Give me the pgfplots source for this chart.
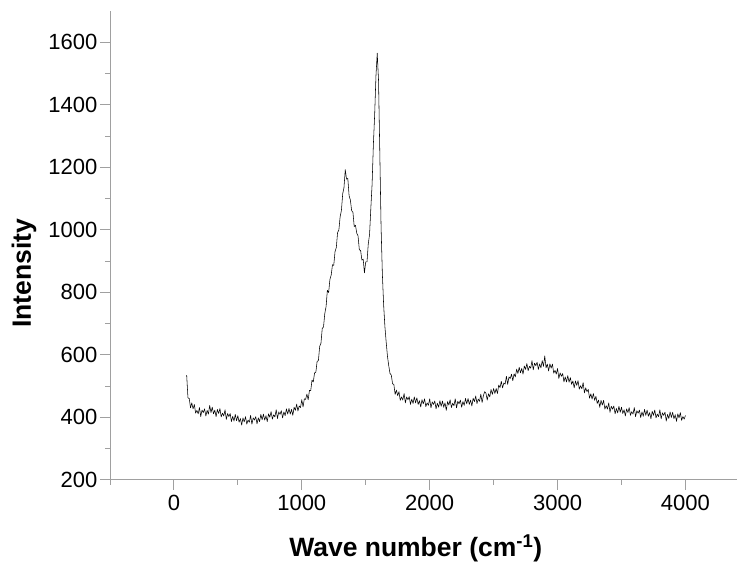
\documentclass[border=0pt]{standalone}
\usepackage{pgfplots}
\usepackage{pgfplotstable}
\pgfplotsset{compat=1.18}
\usepackage{fontspec}
\setmainfont{Liberation Sans}
\definecolor{axgray}{HTML}{A0A0A0}
\pgfplotstableread{
x y
100 535
110 462
120 460
130 430
140 446
150 427
160 441
170 413
180 422
190 411
200 431
210 402
220 423
230 415
240 427
250 404
260 422
270 410
280 438
290 415
300 432
310 411
320 423
330 402
340 425
350 412
360 428
370 401
380 413
390 404
400 424
410 393
420 412
430 402
440 412
450 386
460 403
470 388
480 409
490 389
500 405
510 384
520 396
530 375
540 398
550 385
560 402
570 378
580 391
590 384
600 406
610 378
620 398
630 391
640 402
650 379
660 398
670 386
680 409
690 392
700 410
710 391
720 405
730 386
740 411
750 400
760 418
770 394
780 408
790 401
800 424
810 396
820 417
830 409
840 421
850 398
860 417
870 405
880 427
890 410
900 428
910 410
920 425
930 406
940 432
950 422
960 442
970 420
980 436
990 431
1000 456
1010 433
1020 459
1030 457
1040 474
1050 456
1060 486
1070 485
1080 519
1090 513
1100 542
1110 544
1120 579
1130 581
1140 627
1150 637
1160 684
1170 689
1180 732
1190 754
1200 806
1210 799
1220 841
1230 855
1240 888
1250 886
1260 930
1270 943
1280 991
1290 999
1300 1042
1310 1062
1320 1115
1330 1135
1340 1192
1350 1162
1360 1164
1370 1109
1380 1095
1390 1061
1400 1056
1410 1010
1420 1014
1430 989
1440 980
1450 936
1460 934
1470 903
1480 906
1490 862
1500 897
1510 897
1520 955
1530 985
1540 1069
1550 1147
1560 1274
1570 1369
1580 1492
1590 1565
1600 1480
1610 1250
1620 1010
1630 860
1640 760
1650 690
1660 640
1670 595
1680 565
1690 540
1700 535
1710 507
1720 505
1730 473
1740 487
1750 469
1760 482
1770 454
1780 465
1790 455
1800 476
1810 446
1820 465
1830 456
1840 466
1850 441
1860 458
1870 444
1880 465
1890 446
1900 462
1910 441
1920 453
1930 433
1940 456
1950 443
1960 459
1970 434
1980 446
1990 438
2000 459
2010 430
2020 449
2030 441
2040 452
2050 427
2060 445
2070 432
2080 453
2090 435
2100 452
2110 432
2120 446
2130 422
2140 450
2150 439
2160 456
2170 431
2180 445
2190 437
2200 459
2210 430
2220 451
2230 443
2240 455
2250 432
2260 450
2270 438
2280 460
2290 443
2300 460
2310 441
2320 455
2330 436
2340 461
2350 450
2360 468
2370 444
2380 458
2390 451
2400 474
2410 447
2420 469
2430 482
2440 477
2450 455
2460 475
2470 465
2480 489
2490 473
2500 492
2510 476
2520 492
2530 476
2540 503
2550 495
2560 515
2570 494
2580 510
2590 506
2600 531
2610 505
2620 529
2630 524
2640 538
2650 517
2660 539
2670 529
2680 554
2690 540
2700 560
2710 542
2720 556
2730 538
2740 564
2750 553
2760 572
2770 549
2780 563
2790 557
2800 581
2810 552
2820 573
2830 565
2840 576
2850 553
2860 571
2870 558
2880 581
2890 563
2900 596
2910 558
2920 570
2930 548
2940 571
2950 557
2960 570
2970 541
2980 550
2990 538
3000 556
3010 524
3020 542
3030 531
3040 540
3050 513
3060 529
3070 513
3080 533
3090 512
3100 527
3110 505
3120 516
3130 494
3140 516
3150 502
3160 517
3170 490
3180 501
3190 491
3200 511
3210 478
3220 494
3230 482
3240 489
3250 461
3260 475
3270 458
3280 476
3290 454
3300 467
3310 444
3320 455
3330 432
3340 454
3350 439
3360 454
3370 426
3380 437
3390 426
3400 446
3410 416
3420 435
3430 426
3440 436
3450 411
3460 428
3470 414
3480 435
3490 416
3500 432
3510 412
3520 424
3530 404
3540 427
3550 415
3560 431
3570 406
3580 418
3590 410
3600 431
3610 402
3620 421
3630 413
3640 423
3650 399
3660 417
3670 403
3680 425
3690 406
3700 423
3710 403
3720 415
3730 395
3740 419
3750 406
3760 423
3770 398
3780 410
3790 402
3800 424
3810 395
3820 414
3830 406
3840 416
3850 388
3860 409
3870 396
3880 417
3890 399
3900 416
3910 395
3920 408
3930 387
3940 411
3950 398
3960 415
3970 390
3980 402
3990 394
4000 406
}\spectrum
\begin{document}
\begin{tikzpicture}
\begin{axis}[
  scale only axis,
  width=627pt, height=469pt,
  xmin=-500, xmax=4400,
  ymin=200, ymax=1700,
  axis x line=bottom, axis y line=left,
  axis line style={-, axgray, line width=0.8pt},
  xtick={0,1000,2000,3000,4000},
  ytick={200,400,...,1600},
  minor x tick num=1,
  minor y tick num=1,
  extra x ticks={-500},
  extra x tick labels={},
  extra x tick style={major tick length=5pt},
  tick align=outside,
  major tick length=10pt,
  minor tick length=5pt,
  every tick/.style={axgray, line width=0.8pt},
  tick label style={font=\fontsize{22}{24}\selectfont, black},
  /pgf/number format/assume math mode=true,
  /pgf/number format/1000 sep={},
  xticklabel style={yshift=-2pt},
  yticklabel style={xshift=1pt},
  xlabel={Wave number (cm\textsuperscript{-1})},
  ylabel={Intensity},
  label style={font=\fontsize{26.5}{28}\selectfont\bfseries},
  xlabel style={at={(axis description cs:0.488,0)}, anchor=base, yshift=-77pt},
  ylabel style={at={(axis description cs:-0.1372,0.44)}, anchor=center},
  clip=false,
]
\addplot[black, line width=0.55pt, line join=round] table[x=x,y=y] {\spectrum};
\end{axis}
\path (current axis.south west) ++(-110pt,-84pt) rectangle ([yshift=11pt]current axis.north east);
\end{tikzpicture}
\end{document}
